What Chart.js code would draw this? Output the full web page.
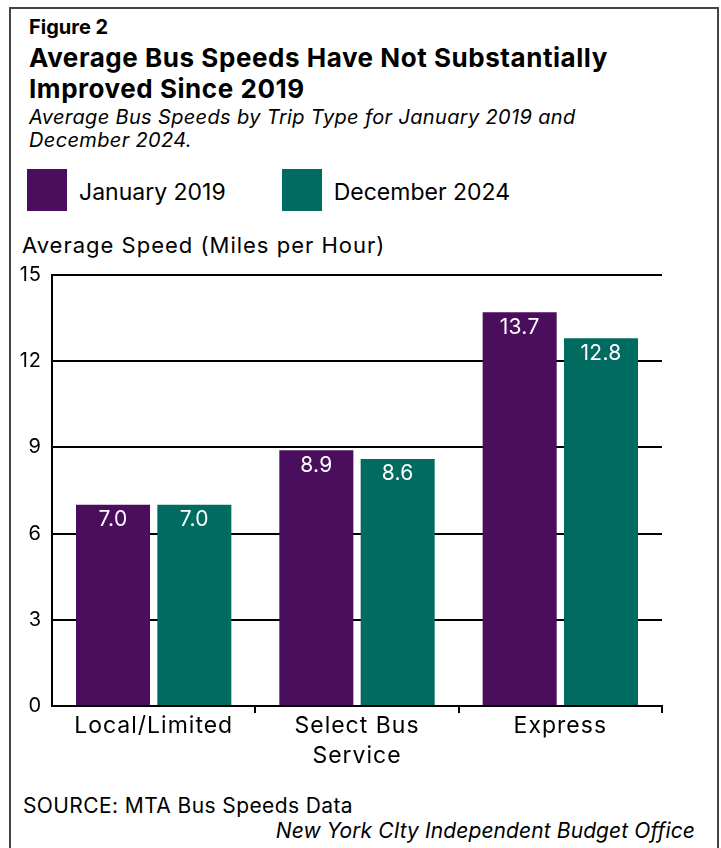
<!DOCTYPE html>
<html>
<head>
<meta charset="utf-8">
<title>Average Bus Speeds</title>
<script src="https://cdn.jsdelivr.net/npm/chart.js@4/dist/chart.umd.min.js"></script>
<style>
  body { margin: 0; background: #fff; font-family: Inter, "Noto Sans", sans-serif; color: #000; }
  .frame { position: absolute; left: 9px; top: 7px; width: 706px; height: 860px; border: 2px solid #444; }
  .txt { position: absolute; white-space: nowrap; }
  .fig { left: 29px; top: 15px; font-size: 20px; line-height: 24px; font-weight: 700; }
  .title { left: 29px; top: 42px; font-size: 26px; line-height: 31px; font-weight: 700; letter-spacing: 0.55px; }
  .sub { left: 29px; top: 106px; font-size: 20px; line-height: 23px; font-style: italic; letter-spacing: 0.35px; }
  #legend { position: absolute; left: 27px; top: 169px; display: flex; gap: 56px; }
  #legend .item { display: flex; align-items: center; font-size: 23px; }
  #legend .item span { padding-top: 4px; }
  #legend .box { width: 40px; height: 42px; margin-right: 12px; }
  .ytitle { left: 22px; top: 230px; font-size: 22px; line-height: 30px; letter-spacing: 1px; }
  #wrap { position: absolute; left: 0; top: 250px; }
  .src { left: 23px; top: 792px; font-size: 21px; line-height: 28px; letter-spacing: 0.4px; }
  .org { right: 26px; top: 817px; font-size: 21px; line-height: 28px; font-style: italic; letter-spacing: 0.1px; }
</style>
</head>
<body>
<div class="frame"></div>
<div class="txt fig">Figure 2</div>
<div class="txt title">Average Bus Speeds Have Not Substantially<br>Improved Since 2019</div>
<div class="txt sub">Average Bus Speeds by Trip Type for January 2019 and<br>December 2024.</div>
<div id="legend"></div>
<div class="txt ytitle">Average Speed (Miles per Hour)</div>
<div id="wrap"><canvas id="chart" width="721" height="530"></canvas></div>
<div class="txt src">SOURCE: MTA Bus Speeds Data</div>
<div class="txt org">New York CIty Independent Budget Office</div>

<script>
const categories = [["Local/Limited"], ["Select Bus", "Service"], ["Express"]];
const seriesNames = ["January 2019", "December 2024"];
const jan2019 = [7.0, 8.9, 13.7];
const dec2024 = [7.0, 8.6, 12.8];
const yTicks = [0, 3, 6, 9, 12, 15];
const colors = ["#4a0e5c", "#006b61"];

const FONT = "Inter, 'Noto Sans', sans-serif";

// slightly looser letter spacing for axis text
const spacing = {
  id: "spacing",
  beforeDraw(chart) { chart.ctx.letterSpacing = "1px"; }
};

// white value labels just inside the top of each bar
const barValues = {
  id: "barValues",
  afterDatasetsDraw(chart) {
    const ctx = chart.ctx;
    ctx.save();
    ctx.letterSpacing = "0.3px";
    ctx.fillStyle = "#fff";
    ctx.font = "21px " + FONT;
    ctx.textAlign = "center";
    ctx.textBaseline = "middle";
    chart.data.datasets.forEach((ds, i) => {
      chart.getDatasetMeta(i).data.forEach((bar, j) => {
        ctx.fillText(ds.data[j].toFixed(1), bar.x, bar.y + 15);
      });
    });
    ctx.restore();
  }
};

const chart = new Chart(document.getElementById("chart"), {
  type: "bar",
  data: {
    labels: categories,
    datasets: [
      { label: seriesNames[0], data: jan2019, backgroundColor: colors[0] },
      { label: seriesNames[1], data: dec2024, backgroundColor: colors[1] }
    ]
  },
  options: {
    responsive: false,
    animation: false,
    devicePixelRatio: 1,
    categoryPercentage: 0.8,
    barPercentage: 0.91,
    layout: { padding: { top: 25, right: 59, left: 0, bottom: 0 } },
    plugins: { legend: { display: false }, tooltip: { enabled: false } },
    scales: {
      x: {
        grid: {
          offset: true,
          drawOnChartArea: false,
          drawTicks: true,
          tickLength: 7,
          lineWidth: 2,
          color: c => (c.index === 0 ? "rgba(0,0,0,0)" : "#000")
        },
        border: { display: true, color: "#000", width: 2 },
        ticks: {
          color: "#000",
          font: { family: FONT, size: 23, lineHeight: 1.3 },
          padding: -2,
          maxRotation: 0
        },
        afterFit: s => { s.height = 74; }
      },
      y: {
        min: 0,
        max: 15,
        afterBuildTicks: s => { s.ticks = yTicks.map(v => ({ value: v })); },
        grid: { color: "#000", lineWidth: 2, drawTicks: false },
        border: { display: true, color: "#000", width: 2 },
        ticks: {
          color: "#000",
          font: { family: FONT, size: 20 },
          padding: 10
        },
        afterFit: s => { s.width = 52; }
      }
    }
  },
  plugins: [spacing, barValues]
});

// legend from the chart's own datasets
const legend = document.getElementById("legend");
chart.data.datasets.forEach(ds => {
  const item = document.createElement("div");
  item.className = "item";
  const box = document.createElement("div");
  box.className = "box";
  box.style.background = ds.backgroundColor;
  const label = document.createElement("span");
  label.textContent = ds.label;
  item.appendChild(box);
  item.appendChild(label);
  legend.appendChild(item);
});
</script>
</body>
</html>
